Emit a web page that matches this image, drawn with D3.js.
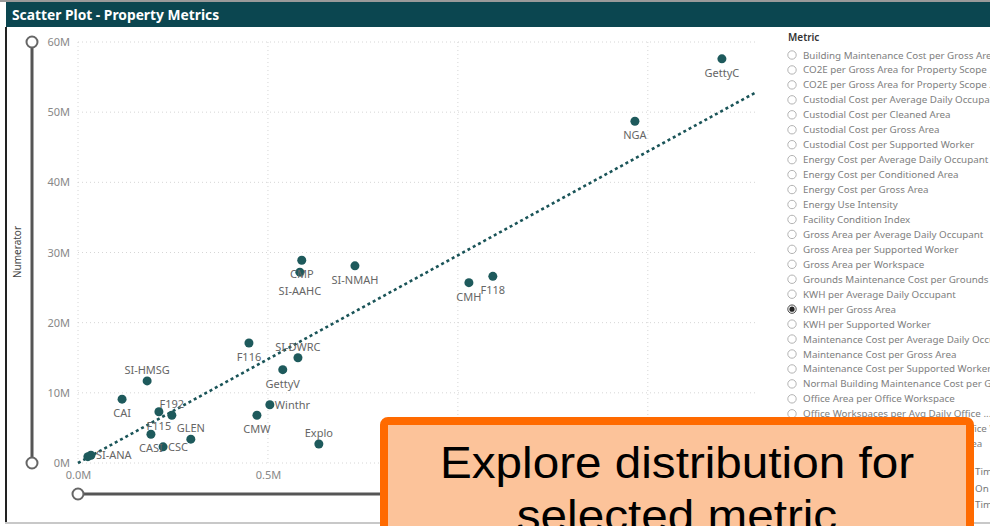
<!DOCTYPE html>
<html><head><meta charset="utf-8">
<script src="https://cdn.jsdelivr.net/npm/d3@7"></script>
<style>
html,body{margin:0;padding:0;background:#fff;overflow:hidden;}
svg{display:block;}
</style></head>
<body>
<svg id="c" width="990" height="526"></svg>
<script>
// ---- data ----
const names = ["GettyC","NGA","F118","CMH","SI-NMAH","CMP","SI-AAHC","F116","SI-DWRC","GettyV","SI-HMSG","CAI","F192","F115","GLEN","CASI","CSC","SI-ANA","","Winthr","CMW","Explo"];
const denominators = [1.695,1.466,1.092,1.029,0.729,0.589,0.584,0.450,0.579,0.539,0.182,0.116,0.247,0.213,0.297,0.192,0.224,0.034,0.026,0.505,0.471,0.634]; // M
const numerators = [57.6,48.7,26.6,25.7,28.1,28.9,27.2,17.1,15.0,13.3,11.7,9.1,6.8,7.3,3.4,4.1,2.3,1.1,0.9,8.3,6.8,2.7]; // M
const trendX = [0, 1.787];
const trendY = [0, 52.9];
const yTicks = [0,10,20,30,40,50,60];
const xTicks = [0,0.5,1.0,1.5];
const metrics = ["Building Maintenance Cost per Gross Area","CO2E per Gross Area for Property Scope 1","CO2E per Gross Area for Property Scope 2","Custodial Cost per Average Daily Occupant","Custodial Cost per Cleaned Area","Custodial Cost per Gross Area","Custodial Cost per Supported Worker","Energy Cost per Average Daily Occupant","Energy Cost per Conditioned Area","Energy Cost per Gross Area","Energy Use Intensity","Facility Condition Index","Gross Area per Average Daily Occupant","Gross Area per Supported Worker","Gross Area per Workspace","Grounds Maintenance Cost per Grounds Area","KWH per Average Daily Occupant","KWH per Gross Area","KWH per Supported Worker","Maintenance Cost per Average Daily Occupant","Maintenance Cost per Gross Area","Maintenance Cost per Supported Worker","Normal Building Maintenance Cost per Gross Area","Office Area per Office Workspace","Office Workspaces per Avg Daily Office ...","Office Workspaces per Supported Office Worker","Utility Cost per Gross Conditioned Area"];
const selectedMetric = "KWH per Gross Area";
const timeItems = ["Time","On","Time"];

// label placement (layout only)
const labelPlace = {"GettyC":"below","NGA":"below","F118":"below","CMH":"below","SI-NMAH":"below","CMP":"below","SI-AAHC":"below2","F116":"below","SI-DWRC":"above","GettyV":"below","SI-HMSG":"above","CAI":"below","F192":"above","F115":"below","GLEN":"above","CASI":"below","CSC":"right","SI-ANA":"right","Winthr":"right","CMW":"below","Explo":"above"};

const svg = d3.select("#c");
const font = "'Segoe UI','Noto Sans',sans-serif";

// frame
svg.append("rect").attr("x",0).attr("y",0).attr("width",990).attr("height",2).attr("fill","#9a9a9a");
svg.append("rect").attr("x",6).attr("y",2).attr("width",984).attr("height",25).attr("fill","#0b4650");
svg.append("text").attr("x",12).attr("y",20).text("Scatter Plot - Property Metrics")
  .attr("fill","#fff").attr("font-family",font).attr("font-weight","bold").attr("font-size",13.8);
svg.append("rect").attr("x",5).attr("y",27).attr("width",2).attr("height",497).attr("fill","#222");
svg.append("rect").attr("x",5).attr("y",522).attr("width",985).attr("height",2).attr("fill","#c8c8c8");

// scales
const x = d3.scaleLinear().domain([0,1.79]).range([78,758]);
const y = d3.scaleLinear().domain([0,60]).range([463,42]);

// gridlines
const g = svg.append("g");
g.selectAll(".hg").data(yTicks).join("line")
  .attr("x1",78).attr("x2",758).attr("y1",d=>y(d)).attr("y2",d=>y(d))
  .attr("stroke","#d6d6d6").attr("stroke-dasharray","1,3");
g.selectAll(".vg").data(xTicks).join("line")
  .attr("y1",42).attr("y2",463).attr("x1",d=>x(d)).attr("x2",d=>x(d))
  .attr("stroke","#d6d6d6").attr("stroke-dasharray","1,3");

// axes
const yAxis = d3.axisLeft(y).tickValues(yTicks).tickFormat(d=>d+"M").tickSize(0).tickPadding(8);
const ya = svg.append("g").attr("transform","translate(78,0)").call(yAxis);
const xAxis = d3.axisBottom(x).tickValues(xTicks).tickFormat(d=>d3.format(".1f")(d)+"M").tickSize(0).tickPadding(8);
const xa = svg.append("g").attr("transform","translate(0,463)").call(xAxis);
[ya,xa].forEach(a=>{a.select(".domain").remove();
  a.selectAll("text").attr("fill","#888").attr("font-family",font).attr("font-size",11);});

svg.append("text").attr("transform","translate(21,252) rotate(-90)").attr("text-anchor","middle")
  .text("Numerator").attr("fill","#444").attr("font-family",font).attr("font-size",10);

// sliders
svg.append("line").attr("x1",32).attr("x2",32).attr("y1",y(60)).attr("y2",y(0)).attr("stroke","#555").attr("stroke-width",3);
[60,0].forEach(v=>svg.append("circle").attr("cx",32).attr("cy",y(v)).attr("r",5.5).attr("fill","#fff").attr("stroke","#666").attr("stroke-width",2));
svg.append("line").attr("x1",x(0)).attr("x2",x(1.79)).attr("y1",494).attr("y2",494).attr("stroke","#555").attr("stroke-width",3);
svg.append("circle").attr("cx",x(0)).attr("cy",494).attr("r",5.5).attr("fill","#fff").attr("stroke","#666").attr("stroke-width",2);

// trend
svg.append("line").attr("x1",x(trendX[0])).attr("y1",y(trendY[0])).attr("x2",x(trendX[1])).attr("y2",y(trendY[1]))
  .attr("stroke","#1a5458").attr("stroke-width",2.6).attr("stroke-dasharray","3,3");

// points
const pts = names.map((n,i)=>({n, xv:denominators[i], yv:numerators[i]}));
svg.selectAll(".pt").data(pts).join("circle")
  .attr("cx",d=>x(d.xv)).attr("cy",d=>y(d.yv)).attr("r",4.5).attr("fill","#1e5a5c");

// labels
svg.selectAll(".lb").data(pts.filter(d=>d.n)).join("text")
  .attr("x",d=>{const p=labelPlace[d.n]; return p==="right"? x(d.xv)+5 : x(d.xv);})
  .attr("y",d=>{const p=labelPlace[d.n]; const py=y(d.yv);
     return p==="above"? py-7 : p==="right"? py+4 : p==="below2"? py+23 : py+18;})
  .attr("text-anchor",d=>labelPlace[d.n]==="right"?"start":"middle")
  .text(d=>d.n).attr("fill","#666").attr("font-family",font).attr("font-size",11);

// legend slicer
const lg = svg.append("g");
lg.append("text").attr("x",788).attr("y",41).text("Metric").attr("fill","#333")
  .attr("font-family",font).attr("font-weight","600").attr("font-size",10);
const ly = d3.scaleLinear().domain([0,1]).range([55,69.95]);
const items = lg.selectAll(".it").data(metrics).join("g").attr("transform",(d,i)=>`translate(0,${ly(i)})`);
items.append("circle").attr("cx",792).attr("cy",0).attr("r",4.2).attr("fill","#fff").attr("stroke","#aaa").attr("stroke-width",0.9);
items.filter(d=>d===selectedMetric).append("circle").attr("cx",792).attr("cy",0).attr("r",2.6).attr("fill","#222");
items.filter(d=>d===selectedMetric).select("circle").attr("stroke","#333");
items.append("text").attr("x",803).attr("y",3.5).text(d=>d).attr("fill","#808080")
  .attr("font-family",font).attr("font-size",9.8);
lg.selectAll(".tm").data(timeItems).join("text").attr("x",975).attr("y",(d,i)=>475+i*16.5)
  .text(d=>d).attr("fill","#777").attr("font-family",font).attr("font-size",9.8);

// overlay callout
svg.append("rect").attr("x",384).attr("y",421).attr("width",586).attr("height",140).attr("rx",4)
  .attr("fill","#fcc39a").attr("stroke","#ff6a00").attr("stroke-width",8);
const ot = svg.append("text").attr("text-anchor","middle").attr("font-family","'Liberation Sans',Arial,sans-serif")
  .attr("font-size",44).attr("fill","#000");
const l1 = ot.append("tspan").attr("x",677).attr("y",478).text("Explore distribution for");
const l2 = ot.append("tspan").attr("x",677).attr("y",531).text("selected metric");
const w1 = l1.node().getComputedTextLength(), w2 = l2.node().getComputedTextLength();
const k = 474 / w1;
l1.attr("textLength", w1*k).attr("lengthAdjust","spacingAndGlyphs");
l2.attr("textLength", w2*k).attr("lengthAdjust","spacingAndGlyphs");
</script>
</body></html>
